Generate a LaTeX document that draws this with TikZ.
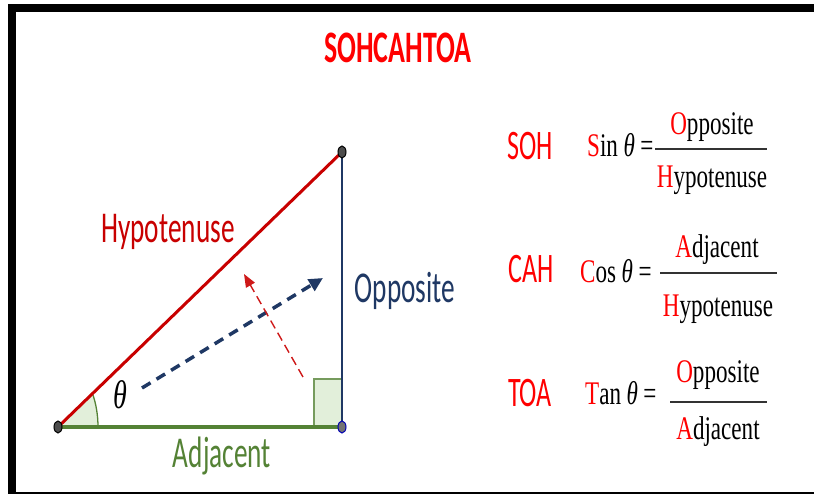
\documentclass[tikz,border=0pt]{standalone}
\usepackage{fontspec}
\usepackage{tikz}
\usetikzlibrary{arrows.meta,shapes.geometric}

\newfontfamily\sidefont[FakeStretch=0.62]{Carlito}
\newfontfamily\ratiofont[FakeStretch=0.7]{Liberation Serif}

\definecolor{hypred}{RGB}{200,0,0}
\definecolor{oppblue}{RGB}{31,56,100}
\definecolor{adjgreen}{RGB}{84,130,53}
\definecolor{boxgreen}{RGB}{226,239,218}

\tikzset{
  side/.style={anchor=base,inner sep=0pt,font=\sidefont\fontsize{44}{48}\selectfont},
  mnem/.style={anchor=base,inner sep=0pt,text=red,font=\sidefont\fontsize{42}{46}\selectfont},
  ratio/.style={anchor=base,inner sep=0pt,font=\ratiofont\fontsize{33}{36}\selectfont},
  fracbar/.style={line width=1.6pt,black!80},
  vdot/.style={ellipse,draw=black,fill=black!70,line width=1pt,minimum width=8pt,minimum height=12pt,inner sep=0pt}
}

\begin{document}
\begin{tikzpicture}[x=1pt,y=1pt]
\useasboundingbox (0,0) rectangle (814,494);
% frame
\fill (8,0) rectangle (16,490);
\fill (8,482) rectangle (814,490);
\fill (8,0) rectangle (814,2);

\node[anchor=base,inner sep=0pt,text=red,font=\sidefont\bfseries\fontsize{45}{50}\selectfont] (title) at (398,431) {SOHCAHTOA};

% triangle
\coordinate (A) at (58,67);
\coordinate (B) at (342,67);
\coordinate (C) at (342,342);

\fill[boxgreen] (A) -- (98,67) arc[start angle=0,end angle=30.4,x radius=40,y radius=66] -- cycle;
\draw[adjgreen,line width=1.3pt] (98,67) arc[start angle=0,end angle=30.4,x radius=40,y radius=66];
\filldraw[fill=boxgreen,draw=adjgreen!80,line width=1.8pt] (314,67) rectangle (342,115);

\draw[hypred,line width=3pt] (A) -- (C);
\draw[oppblue,line width=2pt] (C) -- (B);
\draw[adjgreen,line width=4pt] (A) -- (B);

\node[vdot] (Adot) at (A) {};
\node[vdot,draw=blue!70!black,fill=black!55] (Bdot) at (B) {};
\node[vdot] (Cdot) at (C) {};

\node[side,text=hypred] (hyp) at (168,251) {Hypotenuse};
\node[side,text=oppblue] (opp) at (405,191) {Opposite};
\node[side,text=adjgreen] (adj) at (222,26) {Adjacent};
\node[anchor=center,inner sep=0pt,font=\ratiofont\itshape\fontsize{40}{44}\selectfont] (theta) at (120,99) {θ};

% arrows
\coordinate (bstart) at (142,106);
\coordinate (bend) at (323,216);
\draw[oppblue,line width=3.5pt,dash pattern=on 10pt off 7pt,-{Triangle[length=14pt,width=13pt]}] (bstart) -- (bend);
\coordinate (rstart) at (303,117);
\coordinate (rend) at (244,220);
\draw[hypred!90,line width=1.4pt,dash pattern=on 9pt off 5pt,-{Triangle[length=13pt,width=10pt]}] (rstart) -- (rend);

% SOH
\node[mnem] (soh) at (530,334) {SOH};
\node[ratio,anchor=base west] (sinl) at (587,337) {{\color{red}S}in\,\textit{θ}\,=};
\node[ratio] (sinn) at (712,359) {{\color{red}O}pposite};
\node[ratio] (sind) at (712,306) {{\color{red}H}ypotenuse};
\coordinate (sinbl) at (655,345);
\coordinate (sinbr) at (767,345);
\draw[fracbar] (sinbl) -- (sinbr);

% CAH
\node[mnem] (cah) at (531,211) {CAH};
\node[ratio,anchor=base west] (cosl) at (580,211) {{\color{red}C}os\,\textit{θ}\,=};
\node[ratio] (cosn) at (717,236) {{\color{red}A}djacent};
\node[ratio] (cosd) at (718,177) {{\color{red}H}ypotenuse};
\coordinate (cosbl) at (660,221);
\coordinate (cosbr) at (777,221);
\draw[fracbar] (cosbl) -- (cosbr);

% TOA
\node[mnem] (toa) at (530,87) {TOA};
\node[ratio,anchor=base west] (tanl) at (585,89) {{\color{red}T}an\,\textit{θ}\,=};
\node[ratio] (tann) at (718,111) {{\color{red}O}pposite};
\node[ratio] (tand) at (718,54) {{\color{red}A}djacent};
\coordinate (tanbl) at (670,92);
\coordinate (tanbr) at (767,92);
\draw[fracbar] (tanbl) -- (tanbr);
\end{tikzpicture}
\end{document}
